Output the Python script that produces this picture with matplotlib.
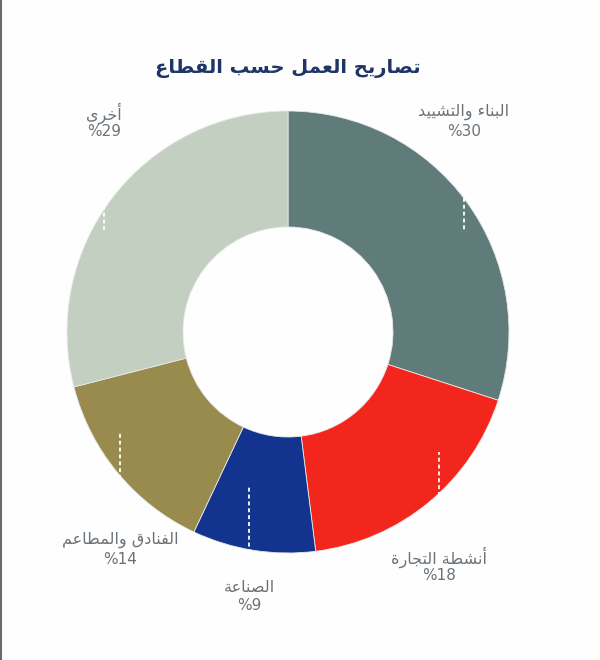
import matplotlib
matplotlib.use('Agg')
import matplotlib.pyplot as plt
from matplotlib.lines import Line2D
import numpy as np

# data (clockwise from 12 o'clock)
sectors = ['البناء والتشييد', 'أنشطة التجارة', 'الصناعة', 'الفنادق والمطاعم', 'أخرى']
shares = [30, 18, 9, 14, 29]
colors = ['#5f7c7b', '#f2261c', '#13348e', '#988b4d', '#c3cfc1']
title = 'تصاريح العمل حسب القطاع'

# Arabic presentation forms: (isolated, final, initial, medial)
FORMS = {
	'\u0621': ('\uFE80', None, None, None),
	'\u0623': ('\uFE83', '\uFE84', None, None),
	'\u0627': ('\uFE8D', '\uFE8E', None, None),
	'\u0628': ('\uFE8F', '\uFE90', '\uFE91', '\uFE92'),
	'\u0629': ('\uFE93', '\uFE94', None, None),
	'\u062A': ('\uFE95', '\uFE96', '\uFE97', '\uFE98'),
	'\u062C': ('\uFE9D', '\uFE9E', '\uFE9F', '\uFEA0'),
	'\u062D': ('\uFEA1', '\uFEA2', '\uFEA3', '\uFEA4'),
	'\u062E': ('\uFEA5', '\uFEA6', '\uFEA7', '\uFEA8'),
	'\u062F': ('\uFEA9', '\uFEAA', None, None),
	'\u0631': ('\uFEAD', '\uFEAE', None, None),
	'\u0633': ('\uFEB1', '\uFEB2', '\uFEB3', '\uFEB4'),
	'\u0634': ('\uFEB5', '\uFEB6', '\uFEB7', '\uFEB8'),
	'\u0635': ('\uFEB9', '\uFEBA', '\uFEBB', '\uFEBC'),
	'\u0637': ('\uFEC1', '\uFEC2', '\uFEC3', '\uFEC4'),
	'\u0639': ('\uFEC9', '\uFECA', '\uFECB', '\uFECC'),
	'\u0641': ('\uFED1', '\uFED2', '\uFED3', '\uFED4'),
	'\u0642': ('\uFED5', '\uFED6', '\uFED7', '\uFED8'),
	'\u0644': ('\uFEDD', '\uFEDE', '\uFEDF', '\uFEE0'),
	'\u0645': ('\uFEE1', '\uFEE2', '\uFEE3', '\uFEE4'),
	'\u0646': ('\uFEE5', '\uFEE6', '\uFEE7', '\uFEE8'),
	'\u0648': ('\uFEED', '\uFEEE', None, None),
	'\u0649': ('\uFEEF', '\uFEF0', None, None),
	'\u064A': ('\uFEF1', '\uFEF2', '\uFEF3', '\uFEF4'),
}

def shape(text):
	# join letters and flip to visual order for left-to-right drawing
	out = []
	for i, ch in enumerate(text):
		f = FORMS.get(ch)
		if f is None:
			out.append(ch)
			continue
		prev = text[i - 1] if i > 0 else ''
		nxt = text[i + 1] if i < len(text) - 1 else ''
		join_prev = prev in FORMS and FORMS[prev][2] is not None
		join_next = f[2] is not None and nxt in FORMS and FORMS[nxt][1] is not None
		if join_prev and join_next:
			out.append(f[3])
		elif join_prev:
			out.append(f[1])
		elif join_next:
			out.append(f[2])
		else:
			out.append(f[0])
	return ''.join(reversed(out))

fig = plt.figure(figsize=(6, 6.6), dpi=100)
fig.patch.set_facecolor('#fefefe')
ax = fig.add_axes([0, 0, 1, 1])
ax.set_facecolor('#fefefe')

cx, cy, R = 288, 332, 221
# y axis is flipped below, so counterclock=True draws clockwise on screen
wedges, _ = ax.pie(shares, colors=colors, center=(cx, cy), radius=R,
	startangle=-90, counterclock=True,
	wedgeprops=dict(width=116, edgecolor='#e8e8e8', linewidth=0.6))

ax.set_xlim(0, 600)
ax.set_ylim(660, 0)
ax.set_aspect('equal')
ax.axis('off')

# label layout (pixel positions) and tip of the dashed leader inside each wedge
label_pos = [(464, 121), (439, 566), (249, 596), (120, 549), (104, 122)]
tip_y = [230, 452, 487, 433, 230]
below = [False, True, True, True, False]

for name, v, (lx, ly), ty, b in zip(sectors, shares, label_pos, tip_y, below):
	ax.text(lx, ly - 9, shape(name), ha='center', va='center', fontsize=11.5,
		color='#6b7379', family='DejaVu Sans')
	ax.text(lx, ly + 10, '%' + str(v), ha='center', va='center', fontsize=11,
		color='#6b7379', family='DejaVu Sans')
	y0 = ly - 22 if b else ly + 22
	ax.plot([lx, lx], [y0, ty], color='white', lw=1.3, ls=(0, (2.2, 1.6)), zorder=3)

ax.text(288, 68, shape(title), ha='center', va='center', fontsize=14,
	fontweight='bold', color='#1e3566', family='DejaVu Sans')

fig.add_artist(Line2D([0.002, 0.002], [0, 1], transform=fig.transFigure, color='#6a6a6a', lw=1.5))

plt.savefig('out.png', dpi=100, facecolor=fig.get_facecolor())
